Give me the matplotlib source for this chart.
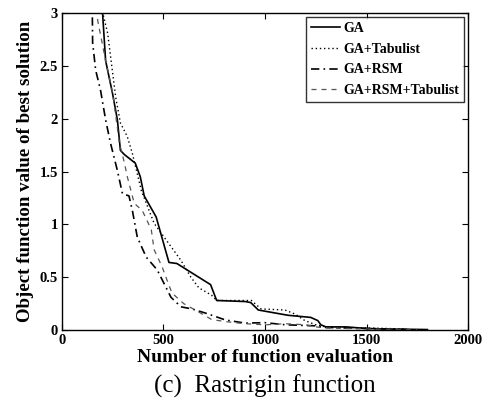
import matplotlib
matplotlib.use("Agg")
import matplotlib.pyplot as plt

# Data (approximate)
ga_x = [195, 200, 215, 249, 273, 288, 308, 361, 386, 405, 464, 527, 566,
        732, 762, 903, 930, 967, 1113, 1225, 1260, 1275, 1300, 1400, 1500,
        1600, 1800]
ga_y = [3.3, 3.0, 2.55, 2.24, 1.99, 1.70, 1.66, 1.58, 1.45, 1.27, 1.07, 0.64,
        0.63, 0.43, 0.28, 0.27, 0.26, 0.19, 0.14, 0.12, 0.09, 0.05, 0.03, 0.03,
        0.015, 0.01, 0.005]

tabu_x = [185, 195, 225, 265, 288, 322, 347, 391, 454, 537, 586, 635, 674,
          737, 762, 933, 981, 1098, 1150, 1196, 1250, 1300, 1500, 1700]
tabu_y = [3.3, 3.05, 2.81, 2.2, 1.96, 1.83, 1.67, 1.32, 1.01, 0.79, 0.66,
          0.50, 0.40, 0.33, 0.28, 0.28, 0.20, 0.19, 0.15, 0.09, 0.05, 0.03,
          0.02, 0.01]

rsm_x = [148, 151, 166, 190, 215, 239, 273, 298, 330, 347, 371, 415, 469,
         503, 537, 586, 640, 708, 806, 903, 1000, 1100, 1250, 1300, 1500, 1700]
rsm_y = [3.3, 2.72, 2.46, 2.27, 1.99, 1.77, 1.51, 1.29, 1.27, 1.13, 0.88,
         0.69, 0.57, 0.44, 0.31, 0.22, 0.20, 0.16, 0.095, 0.066, 0.07, 0.05,
         0.04, 0.025, 0.015, 0.005]

rsmtabu_x = [165, 176, 215, 250, 283, 308, 322, 356, 396, 440, 454, 493, 518,
             542, 600, 674, 737, 806, 903, 1000, 1100, 1200, 1250, 1300, 1500,
             1750]
rsmtabu_y = [3.3, 2.93, 2.55, 2.24, 1.77, 1.58, 1.45, 1.20, 1.13, 0.95, 0.76,
             0.60, 0.47, 0.35, 0.25, 0.17, 0.10, 0.08, 0.06, 0.05, 0.06, 0.05,
             0.03, 0.02, 0.01, 0.005]

plt.rcParams['font.family'] = ['Liberation Serif', 'DejaVu Serif']

fig = plt.figure(figsize=(4.84, 4.08), dpi=100)
ax = fig.add_axes([0.128, 0.191, 0.839, 0.777])

ax.plot(ga_x, ga_y, color='black', lw=1.2, label='GA')
ax.plot(tabu_x, tabu_y, color='black', lw=1.0, ls=(0, (1, 2)), label='GA+Tabulist')
ax.plot(rsm_x, rsm_y, color='black', lw=1.2, ls=(0, (5, 2.5, 1, 2.5)), label='GA+RSM')
ax.plot(rsmtabu_x, rsmtabu_y, color='#555555', lw=0.9, ls=(0, (4, 4)),
        label='GA+RSM+Tabulist')

ax.set_xlim(0, 2000)
ax.set_ylim(0, 3)
ax.set_xticks([0, 500, 1000, 1500, 2000])
ax.set_yticks([0, 0.5, 1, 1.5, 2, 2.5, 3])
ax.set_yticklabels(['0', '0.5', '1', '1.5', '2', '2.5', '3'])
ax.tick_params(direction='in', top=True, right=True, length=4, width=0.8,
               labelsize=10.5, pad=3)
for lab in ax.get_xticklabels() + ax.get_yticklabels():
    lab.set_fontweight('bold')
for sp in ax.spines.values():
    sp.set_linewidth(1.0)

ax.set_xlabel('Number of function evaluation', fontsize=14,
              fontweight='bold', labelpad=1)
ax.set_ylabel('Object function value of best solution', fontsize=13.6,
              fontweight='bold', labelpad=4)

leg = ax.legend(loc='upper right', prop={'weight': 'bold', 'size': 10},
                frameon=True, fancybox=False, edgecolor='black',
                borderpad=0.35, labelspacing=0.55, handlelength=2.1,
                handletextpad=0.2, borderaxespad=0.3)
leg.get_frame().set_linewidth(1.0)

fig.text(0.548, 0.054, '(c)  Rastrigin function', ha='center', va='center',
         fontsize=18)

fig.savefig('out.png', dpi=100)
